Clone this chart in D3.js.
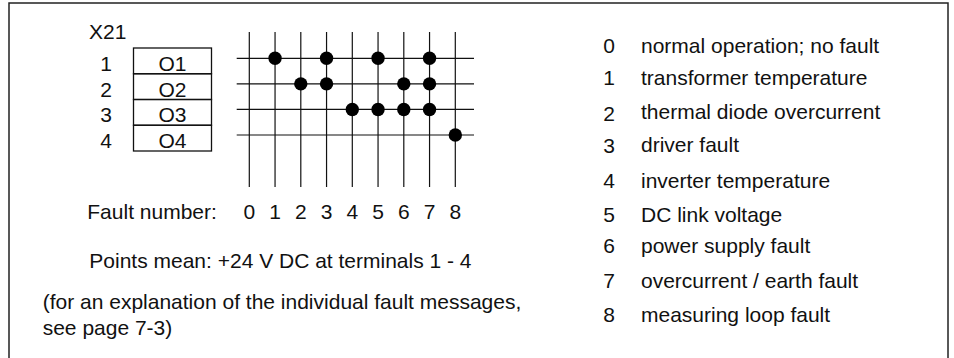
<!DOCTYPE html>
<html>
<head>
<meta charset="utf-8">
<script src="https://cdn.jsdelivr.net/npm/d3@7"></script>
<style>
  html, body { margin: 0; padding: 0; background: #fff; }
  text { font-family: "Liberation Sans", Arial, Helvetica, sans-serif; fill: #111; }
</style>
</head>
<body>
<svg id="chart" width="954" height="358"></svg>
<script>
// ---- data ----
const faultNumbers = [0, 1, 2, 3, 4, 5, 6, 7, 8];
const outputLabels = ["O1", "O2", "O3", "O4"];
const terminalNumbers = ["1", "2", "3", "4"];
const connectorLabel = "X21";
// 1 = point (+24 V DC) on that output for that fault number
const o1Pattern = [0, 1, 0, 1, 0, 1, 0, 1, 0];
const o2Pattern = [0, 0, 1, 1, 0, 0, 1, 1, 0];
const o3Pattern = [0, 0, 0, 0, 1, 1, 1, 1, 0];
const o4Pattern = [0, 0, 0, 0, 0, 0, 0, 0, 1];
const faultDescriptions = [
  "normal operation; no fault",
  "transformer temperature",
  "thermal diode overcurrent",
  "driver fault",
  "inverter temperature",
  "DC link voltage",
  "power supply fault",
  "overcurrent / earth fault",
  "measuring loop fault"
];
const faultAxisTitle = "Fault number:";
const pointsNote = "Points mean: +24 V DC at terminals 1 - 4";
const explanationLines = ["(for an explanation of the individual fault messages,", "see page 7-3)"];

const patterns = [o1Pattern, o2Pattern, o3Pattern, o4Pattern];

// ---- drawing ----
const svg = d3.select("#chart");
const FS = 21;
const ink = "#111";

// outer frame
svg.append("rect")
  .attr("x", 9).attr("y", 3).attr("width", 939).attr("height", 362)
  .attr("fill", "none").attr("stroke", "#222").attr("stroke-width", 1.5);

// scales
const x = d3.scalePoint().domain(faultNumbers).range([249.3, 455.3]);
const y = d3.scalePoint().domain(outputLabels).range([58.3, 135]);
const row = d3.scaleBand().domain(outputLabels).range([48, 151]).padding(0);

// connector label
svg.append("text").attr("x", 89).attr("y", 39).attr("font-size", FS).text(connectorLabel);

// terminal box
const box = svg.append("g");
box.selectAll("rect").data(outputLabels).join("rect")
  .attr("x", 133.5).attr("y", d => row(d))
  .attr("width", 78).attr("height", row.bandwidth())
  .attr("fill", "none").attr("stroke", ink).attr("stroke-width", 1.3);
box.selectAll("text.o").data(outputLabels).join("text").attr("class", "o")
  .attr("x", 172.5).attr("y", d => row(d) + row.bandwidth() - 3)
  .attr("text-anchor", "middle").attr("font-size", FS).text(d => d);
box.selectAll("text.t").data(terminalNumbers).join("text").attr("class", "t")
  .attr("x", 106).attr("y", (d, i) => row(outputLabels[i]) + row.bandwidth() - 3)
  .attr("text-anchor", "middle").attr("font-size", FS).text(d => d);

// grid
const grid = svg.append("g").attr("stroke", ink).attr("stroke-width", 1.2);
grid.selectAll("line.v").data(faultNumbers).join("line").attr("class", "v")
  .attr("x1", d => x(d)).attr("x2", d => x(d))
  .attr("y1", 32).attr("y2", 187);
grid.selectAll("line.h").data(outputLabels).join("line").attr("class", "h")
  .attr("x1", 236.7).attr("x2", 474)
  .attr("y1", d => y(d)).attr("y2", d => y(d));

// points
const pts = [];
patterns.forEach((p, oi) => p.forEach((v, fi) => { if (v) pts.push({ o: outputLabels[oi], f: faultNumbers[fi] }); }));
svg.append("g").selectAll("circle").data(pts).join("circle")
  .attr("cx", d => x(d.f)).attr("cy", d => y(d.o)).attr("r", 6.7).attr("fill", "#000");

// fault number axis labels
svg.append("text").attr("x", 87.3).attr("y", 219.3).attr("font-size", FS).text(faultAxisTitle);
svg.append("g").selectAll("text").data(faultNumbers).join("text")
  .attr("x", d => x(d)).attr("y", 219.3).attr("text-anchor", "middle")
  .attr("font-size", FS).text(d => d);

// notes
svg.append("text").attr("x", 89.3).attr("y", 268).attr("font-size", FS).text(pointsNote);
svg.append("g").selectAll("text").data(explanationLines).join("text")
  .attr("x", 42.7).attr("y", (d, i) => 309 + i * 26).attr("font-size", FS).text(d => d);

// fault list
const textBase = [52.7, 85, 119, 151.5, 187.5, 222, 253, 288, 322];
const digitShift = [0, 0, 1.5, 1.5, 0, 0, 0, 0, 0];
const list = svg.append("g");
list.selectAll("text.n").data(faultNumbers).join("text").attr("class", "n")
  .attr("x", 609).attr("y", (d, i) => textBase[i] + digitShift[i])
  .attr("text-anchor", "middle").attr("font-size", FS).text(d => d);
list.selectAll("text.d").data(faultDescriptions).join("text").attr("class", "d")
  .attr("x", 641).attr("y", (d, i) => textBase[i])
  .attr("font-size", FS).text(d => d);
</script>
</body>
</html>
